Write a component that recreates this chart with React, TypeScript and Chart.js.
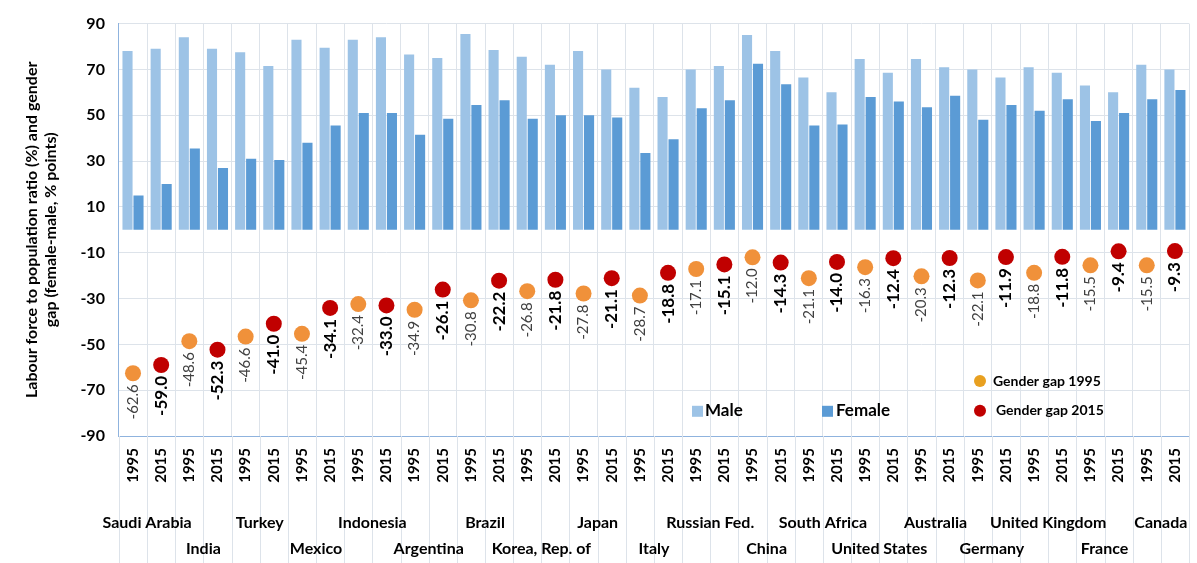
import { useEffect, useRef } from "react";
import { Chart, registerables, type Plugin } from "chart.js";

Chart.register(...registerables);

const COUNTRIES = [
  "Saudi Arabia", "India", "Turkey", "Mexico", "Indonesia", "Argentina", "Brazil",
  "Korea, Rep. of", "Japan", "Italy", "Russian Fed.", "China", "South Africa",
  "United States", "Australia", "Germany", "United Kingdom", "France", "Canada",
];
const YEARS = ["1995", "2015"];

// male / female ratios, alternating 1995, 2015 per country
const MALE = [
  78, 79, 84, 79, 77.5, 71.5, 83, 79.5, 83, 84, 76.5, 75, 85.5, 78.5, 75.5, 72, 78, 70, 62,
  58, 70, 71.5, 85, 78, 66.5, 60, 74.5, 68.5, 74.5, 71, 70, 66.5, 71, 68.5, 63, 60, 72, 70,
];
const FEMALE = [
  15, 20, 35.5, 27, 31, 30.5, 38, 45.5, 51, 51, 41.5, 48.5, 54.5, 56.5, 48.5, 50, 50, 49,
  33.5, 39.5, 53, 56.5, 72.5, 63.5, 45.5, 46, 58, 56, 53.5, 58.5, 48, 54.5, 52, 57, 47.5,
  51, 57, 61,
];
const GAP_1995 = [
  -62.6, -48.6, -46.6, -45.4, -32.4, -34.9, -30.8, -26.8, -27.8, -28.7, -17.1, -12.0,
  -21.1, -16.3, -20.3, -22.1, -18.8, -15.5, -15.5,
];
const GAP_2015 = [
  -59.0, -52.3, -41.0, -34.1, -33.0, -26.1, -22.2, -21.8, -21.1, -18.8, -15.1, -14.3,
  -14.0, -12.4, -12.3, -11.9, -11.8, -9.4, -9.3,
];

const FONT = "Lato, 'Liberation Sans', sans-serif";
const labels = COUNTRIES.flatMap(() => YEARS);
const gap95 = labels.map((_, i) => (i % 2 === 0 ? GAP_1995[i / 2] : null));
const gap15 = labels.map((_, i) => (i % 2 === 1 ? GAP_2015[(i - 1) / 2] : null));

const extras: Plugin = {
  id: "extras",
  afterDatasetsDraw(chart) {
    const { ctx, chartArea } = chart;
    const x = chart.scales.x;
    const y = chart.scales.y;
    ctx.save();
    // grid lines continuing below the plot
    ctx.strokeStyle = "#dde3ea";
    ctx.lineWidth = 1;
    const half = (x.getPixelForValue(1) - x.getPixelForValue(0)) / 2;
    for (let i = 0; i <= labels.length; i++) {
      const gx = Math.round(x.getPixelForValue(0) - half + i * half * 2) + 0.5;
      ctx.beginPath();
      ctx.moveTo(gx, chartArea.bottom);
      ctx.lineTo(gx, chart.height);
      ctx.stroke();
    }
    // year labels
    ctx.fillStyle = "#000";
    ctx.font = `bold 15px ${FONT}`;
    ctx.textAlign = "right";
    ctx.textBaseline = "middle";
    labels.forEach((l, i) => {
      ctx.save();
      ctx.translate(x.getPixelForValue(i), chartArea.bottom + 12);
      ctx.rotate(-Math.PI / 2);
      ctx.fillText(l, 0, 0);
      ctx.restore();
    });
    // value labels under the points
    [2, 3].forEach((di) => {
      const meta = chart.getDatasetMeta(di);
      meta.data.forEach((pt, i) => {
        const v = chart.data.datasets[di].data[i] as number | null;
        if (v == null) return;
        ctx.save();
        ctx.translate(pt.x, pt.y + 11);
        ctx.rotate(-Math.PI / 2);
        ctx.textAlign = "right";
        ctx.textBaseline = "middle";
        ctx.fillStyle = di === 2 ? "#404040" : "#000";
        ctx.font = di === 2 ? `15px ${FONT}` : `bold 17px ${FONT}`;
        ctx.fillText(v.toFixed(1), 0, 0);
        ctx.restore();
      });
    });
    // country names
    ctx.font = `bold 16px ${FONT}`;
    ctx.fillStyle = "#000";
    ctx.textAlign = "center";
    COUNTRIES.forEach((c, i) => {
      const cx = (x.getPixelForValue(2 * i) + x.getPixelForValue(2 * i + 1)) / 2;
      ctx.fillText(c, cx, chartArea.bottom + (i % 2 === 0 ? 87 : 113));
    });
    // legend
    ctx.textAlign = "left";
    const ly = y.getPixelForValue(-79);
    ctx.fillStyle = "#9dc3e6";
    ctx.fillRect(692, ly - 5, 11, 11);
    ctx.fillStyle = "#5b9bd5";
    ctx.fillRect(822, ly - 5, 11, 11);
    ctx.fillStyle = "#000";
    ctx.font = `bold 17px ${FONT}`;
    ctx.fillText("Male", 705, ly);
    ctx.fillText("Female", 836, ly);
    ctx.font = `bold 14px ${FONT}`;
    const gy1 = y.getPixelForValue(-66);
    ctx.fillStyle = "#e8a020";
    ctx.beginPath(); ctx.arc(980, gy1, 6, 0, Math.PI * 2); ctx.fill();
    ctx.fillStyle = "#c00000";
    ctx.beginPath(); ctx.arc(980, ly, 6, 0, Math.PI * 2); ctx.fill();
    ctx.fillStyle = "#000";
    ctx.fillText("Gender gap 1995", 993, gy1);
    ctx.fillText("Gender gap 2015", 996, ly);
    ctx.restore();
  },
};

export default function App() {
  const canvasRef = useRef<HTMLCanvasElement>(null);

  useEffect(() => {
    document.body.style.margin = "0";
    if (!canvasRef.current) return;
    const chart = new Chart(canvasRef.current, {
      type: "bar",
      data: {
        labels,
        datasets: [
          { label: "Male", data: MALE, backgroundColor: "#9dc3e6", order: 2 },
          { label: "Female", data: FEMALE, backgroundColor: "#5b9bd5", order: 2 },
          {
            type: "line", label: "Gender gap 1995", data: gap95, showLine: false,
            pointRadius: 8, pointBackgroundColor: "#f0913a", pointBorderWidth: 0, order: 1,
          },
          {
            type: "line", label: "Gender gap 2015", data: gap15, showLine: false,
            pointRadius: 8, pointBackgroundColor: "#c00000", pointBorderWidth: 0, order: 1,
          },
        ],
      },
      options: {
        animation: false,
        responsive: false,
        layout: { padding: { top: 12, right: 7, bottom: 127, left: 16 } },
        datasets: { bar: { categoryPercentage: 0.78, barPercentage: 0.92 } },
        plugins: { legend: { display: false }, tooltip: { enabled: false } },
        scales: {
          x: {
            offset: true,
            grid: { offset: true, color: "#dde3ea", drawTicks: false },
            border: { color: "#8fb3de" },
            ticks: { display: false },
          },
          y: {
            min: -90, max: 90,
            ticks: { stepSize: 20, padding: 14, color: "#000", font: { family: FONT, size: 16, weight: "bold" } },
            grid: { color: "#dde3ea", drawTicks: false },
            border: { color: "#8fb3de" },
            title: {
              display: true,
              text: ["Labour force to population ratio (%) and gender", "gap (female-male, % points)"],
              color: "#000", font: { family: FONT, size: 16, weight: "bold" }, padding: 6,
            },
          },
        },
      },
      plugins: [extras],
    });
    return () => chart.destroy();
  }, []);

  return <canvas ref={canvasRef} width={1197} height={563} style={{ display: "block" }} />;
}
